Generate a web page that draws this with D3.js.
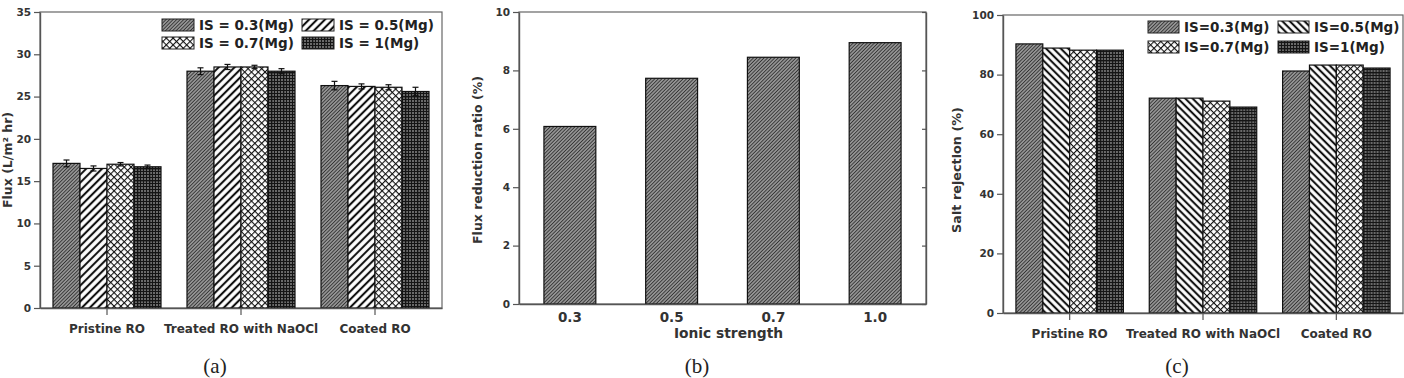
<!DOCTYPE html>
<html>
<head>
<meta charset="utf-8">
<script src="https://cdn.jsdelivr.net/npm/d3@7"></script>
<style>
  body { margin: 0; background: #fff; }
  svg { display: block; }
  .tick text { font-family: "DejaVu Sans", Verdana, sans-serif; font-weight: bold; fill: #333; }
</style>
</head>
<body>
<svg id="fig" width="1404" height="378"></svg>
<script>
// ---- data ----
var categories = ["Pristine RO", "Treated RO with NaOCl", "Coated RO"];
var seriesA = ["IS = 0.3(Mg)", "IS = 0.5(Mg)", "IS = 0.7(Mg)", "IS = 1(Mg)"];
var seriesC = ["IS=0.3(Mg)", "IS=0.5(Mg)", "IS=0.7(Mg)", "IS=1(Mg)"];
var fluxMean = [[17.1, 16.5, 17.0, 16.7], [28.0, 28.5, 28.5, 28.0], [26.3, 26.2, 26.1, 25.6]];
var fluxErr = [[0.4, 0.3, 0.2, 0.2], [0.4, 0.3, 0.2, 0.3], [0.5, 0.3, 0.3, 0.5]];
var fluxTicks = [0, 5, 10, 15, 20, 25, 30, 35];
var ionicStrength = ["0.3", "0.5", "0.7", "1.0"];
var fluxReduction = [6.08, 7.73, 8.45, 8.95];
var reductionTicks = [0, 2, 4, 6, 8, 10];
var saltRejection = [[90.3, 88.9, 88.2, 88.2], [72.1, 72.1, 71.1, 69.1], [81.2, 83.2, 83.2, 82.2]];
var rejectionTicks = [0, 20, 40, 60, 80, 100];

var svg = d3.select("#fig");
var defs = svg.append("defs");
var FONT = '"DejaVu Sans", Verdana, sans-serif';

// hatch patterns
function hatch(id, angle, step, bg, lineColor, lw) {
    var p = defs.append("pattern").attr("id", id).attr("patternUnits", "userSpaceOnUse")
        .attr("width", step).attr("height", step)
        .attr("patternTransform", "rotate(" + angle + ")");
    p.append("rect").attr("width", step).attr("height", step).attr("fill", bg);
    p.append("line").attr("x1", step / 2).attr("x2", step / 2).attr("y1", 0).attr("y2", step)
        .attr("stroke", lineColor).attr("stroke-width", lw);
}
hatch("dense", 45, 2.5, "#b8b8b8", "#333", 1.3);
hatch("fwd", 45, 5.6, "#fff", "#111", 2.1);
hatch("back", -45, 5.2, "#fff", "#111", 2.1);

var cross = defs.append("pattern").attr("id", "cross").attr("patternUnits", "userSpaceOnUse")
    .attr("width", 4.8).attr("height", 4.8).attr("patternTransform", "rotate(45)");
cross.append("rect").attr("width", 4.8).attr("height", 4.8).attr("fill", "#fff");
cross.append("line").attr("x1", 0).attr("x2", 4.8).attr("y1", 0).attr("y2", 0).attr("stroke", "#111").attr("stroke-width", 2.2);
cross.append("line").attr("x1", 0).attr("x2", 0).attr("y1", 0).attr("y2", 4.8).attr("stroke", "#111").attr("stroke-width", 2.2);

var grid = defs.append("pattern").attr("id", "grid").attr("patternUnits", "userSpaceOnUse")
    .attr("width", 12).attr("height", 12);
grid.append("rect").attr("width", 12).attr("height", 12).attr("fill", "#6a6a6a");
[0, 3, 6, 9].forEach(function(v, i) {
    grid.append("line").attr("x1", v + 0.5).attr("x2", v + 0.5).attr("y1", 0).attr("y2", 12)
        .attr("stroke", "#151515").attr("stroke-width", i === 0 ? 1.6 : 1);
    grid.append("line").attr("y1", v + 0.5).attr("y2", v + 0.5).attr("x1", 0).attr("x2", 12)
        .attr("stroke", "#151515").attr("stroke-width", i === 0 ? 1.8 : 1);
});

function styleAxis(g) {
    g.select(".domain").attr("stroke", "#555").attr("stroke-width", 1.4);
    g.selectAll(".tick line").attr("stroke", "#555").attr("stroke-width", 1.2);
}

function frame(x0, x1, y0, y1) {
    svg.append("rect").attr("x", x0).attr("y", y0).attr("width", x1 - x0).attr("height", y1 - y0)
        .attr("fill", "none").attr("stroke", "#666").attr("stroke-width", 1.2);
}

function yTitle(x, y, text, size) {
    svg.append("text").attr("transform", "translate(" + x + "," + y + ") rotate(-90)")
        .attr("text-anchor", "middle").attr("dy", "0.35em")
        .style("font-family", FONT).style("font-weight", "bold").style("font-size", size + "px")
        .style("fill", "#333").text(text);
}

function caption(x, text) {
    svg.append("text").attr("x", x).attr("y", 373).attr("text-anchor", "middle")
        .style("font-family", '"Liberation Serif", "Times New Roman", serif').style("font-size", "21px")
        .style("fill", "#222").text(text);
}

function groupedPanel(cfg) {
    var x0 = d3.scaleBand().domain(categories).range([cfg.left, cfg.right]).paddingInner(0.194).paddingOuter(0.097);
    var x1 = d3.scaleBand().domain(d3.range(4)).range([0, x0.bandwidth()]);
    var y = d3.scaleLinear().domain([0, cfg.ticks[cfg.ticks.length - 1]]).range([cfg.bottom, cfg.top]);

    frame(cfg.left, cfg.right, cfg.top, cfg.bottom);

    categories.forEach(function(cat, ci) {
        var g = svg.append("g").attr("transform", "translate(" + x0(cat) + ",0)");
        g.selectAll("rect").data(cfg.values[ci]).enter().append("rect")
            .attr("x", function(d, i) { return x1(i); })
            .attr("y", function(d) { return y(d); })
            .attr("width", x1.bandwidth())
            .attr("height", function(d) { return y(0) - y(d); })
            .attr("fill", function(d, i) { return "url(#" + cfg.patterns[i] + ")"; })
            .attr("stroke", "#111").attr("stroke-width", 1.2);
        if (cfg.errors) {
            cfg.errors[ci].forEach(function(e, i) {
                var cx = x1(i) + x1.bandwidth() / 2, v = cfg.values[ci][i];
                g.append("line").attr("x1", cx).attr("x2", cx).attr("y1", y(v - e)).attr("y2", y(v + e))
                    .attr("stroke", "#111").attr("stroke-width", 1.2);
                [v - e, v + e].forEach(function(t) {
                    g.append("line").attr("x1", cx - 3).attr("x2", cx + 3).attr("y1", y(t)).attr("y2", y(t))
                        .attr("stroke", "#111").attr("stroke-width", 1.2);
                });
            });
        }
    });

    var ax = svg.append("g").attr("transform", "translate(" + cfg.left + ",0)")
        .call(d3.axisLeft(y).tickValues(cfg.ticks).tickSize(6).tickSizeOuter(0).tickPadding(3));
    ax.selectAll(".tick text").style("font-size", "10.5px");
    styleAxis(ax);

    var bx = svg.append("g").attr("transform", "translate(0," + cfg.bottom + ")")
        .call(d3.axisBottom(x0).tickSize(7).tickSizeOuter(0).tickPadding(9));
    bx.selectAll(".tick text").style("font-size", "12px");
    styleAxis(bx);

    // legend
    cfg.labels.forEach(function(lab, i) {
        var lx = cfg.legendX[i % 2], ly = cfg.legendY[Math.floor(i / 2)];
        svg.append("rect").attr("x", lx).attr("y", ly - 6).attr("width", cfg.swatchW).attr("height", 12)
            .attr("fill", "url(#" + cfg.patterns[i] + ")").attr("stroke", "#222").attr("stroke-width", 1);
        svg.append("text").attr("x", lx + cfg.swatchW + 5).attr("y", ly).attr("dy", "0.36em")
            .style("font-family", FONT).style("font-weight", "bold").style("font-size", "13.5px")
            .style("fill", "#222").text(lab);
    });
}

// (a) flux
groupedPanel({
    left: 40, right: 442, top: 12, bottom: 308,
    ticks: fluxTicks, values: fluxMean, errors: fluxErr,
    patterns: ["dense", "fwd", "cross", "grid"], labels: seriesA,
    legendX: [162, 302], legendY: [25, 43], swatchW: 32
});
yTitle(8, 160, "Flux (L/m\u00B2 hr)", 12.5);
caption(215, "(a)");

// (b) flux reduction ratio
(function() {
    var left = 519, right = 926, top = 12, bottom = 304;
    var x = d3.scaleBand().domain(ionicStrength).range([left, right]).paddingInner(0.49).paddingOuter(0.245);
    var y = d3.scaleLinear().domain([0, 10]).range([bottom, top]);
    frame(left, right, top, bottom);
    svg.append("g").selectAll("rect").data(fluxReduction).enter().append("rect")
        .attr("x", function(d, i) { return x(ionicStrength[i]); })
        .attr("y", function(d) { return y(d); })
        .attr("width", x.bandwidth())
        .attr("height", function(d) { return y(0) - y(d); })
        .attr("fill", "url(#dense)").attr("stroke", "#111").attr("stroke-width", 1.2);

    var ax = svg.append("g").attr("transform", "translate(" + left + ",0)")
        .call(d3.axisLeft(y).tickValues(reductionTicks).tickSize(6).tickSizeOuter(0).tickPadding(3));
    ax.selectAll(".tick text").style("font-size", "10.5px");
    styleAxis(ax);
    var rx = svg.append("g").attr("transform", "translate(" + right + ",0)")
        .call(d3.axisLeft(y).tickValues(reductionTicks).tickSize(4).tickSizeOuter(0).tickFormat(""));
    styleAxis(rx);

    var bx = svg.append("g").attr("transform", "translate(0," + bottom + ")")
        .call(d3.axisBottom(x).tickSize(0).tickSizeOuter(0).tickPadding(8));
    bx.selectAll(".tick text").style("font-size", "13.5px");
    styleAxis(bx);

    svg.append("text").attr("x", (left + right) / 2 + 6).attr("y", 338).attr("text-anchor", "middle")
        .style("font-family", FONT).style("font-weight", "bold").style("font-size", "13.8px")
        .style("fill", "#333").text("Ionic strength");
    yTitle(478, 160, "Flux reduction ratio (%)", 12.5);
    caption(697, "(b)");
})();

// (c) salt rejection
groupedPanel({
    left: 1003, right: 1403, top: 15, bottom: 313,
    ticks: rejectionTicks, values: saltRejection, errors: null,
    patterns: ["dense", "back", "cross", "grid"], labels: seriesC,
    legendX: [1148, 1278], legendY: [27, 47], swatchW: 31
});
yTitle(957, 170, "Salt rejection (%)", 12.8);
caption(1177, "(c)");
</script>
</body>
</html>
